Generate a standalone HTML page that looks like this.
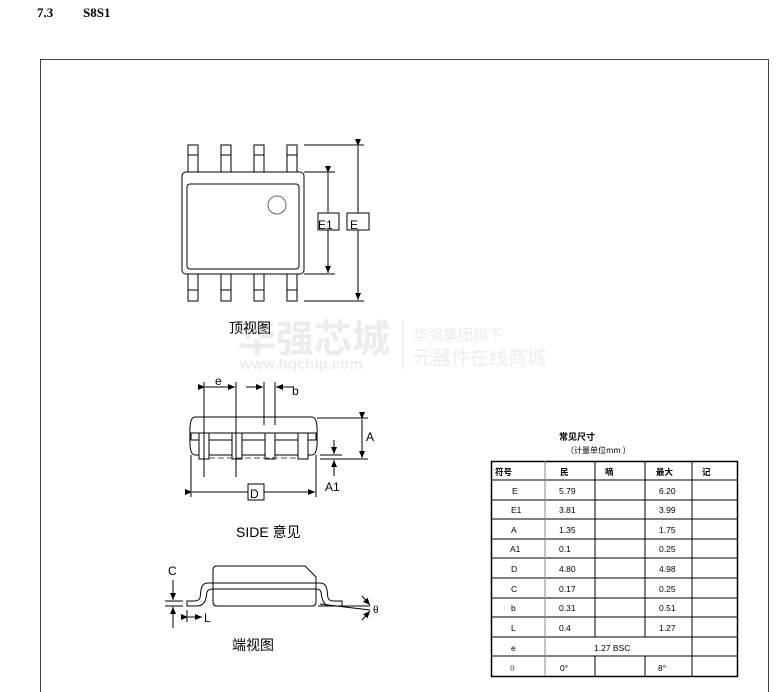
<!DOCTYPE html>
<html><head><meta charset="utf-8"><style>
html,body{margin:0;padding:0;background:#fff;}
svg{display:block;}
text{font-family:"Liberation Sans","Noto Sans CJK SC",sans-serif;}
</style></head><body>
<svg width="784" height="692" viewBox="0 0 784 692" xmlns="http://www.w3.org/2000/svg">
<defs>
<marker id="ar" markerWidth="8" markerHeight="8" refX="7" refY="4" orient="auto" markerUnits="userSpaceOnUse"><path d="M0,1 L7,4 L0,7 z" fill="#000"/></marker>
</defs>
<text x="37" y="17" style="font-family:'Liberation Serif',serif;font-weight:bold;font-size:13px">7.3</text>
<text x="83" y="17" style="font-family:'Liberation Serif',serif;font-weight:bold;font-size:13px">S8S1</text>
<rect x="40.5" y="59.5" width="728" height="640" fill="none" stroke="#444" stroke-width="1"/>

<!-- watermark -->
<g fill="#ececec">
<text x="238" y="352" font-size="38" font-weight="bold" style="font-family:'Noto Sans CJK SC',sans-serif">华强芯城</text>
<text x="240" y="369" font-size="15" font-weight="bold">www.hqchip.com</text>
<text x="413" y="340" font-size="15" style="font-family:'Noto Sans CJK SC',sans-serif">华强集团旗下</text>
<text x="413" y="364" font-size="19" style="font-family:'Noto Sans CJK SC',sans-serif">元器件在线商城</text>
</g>
<line x1="403" y1="320" x2="403" y2="370" stroke="#e6e6e6"/>

<!-- top view -->
<g fill="#fff" stroke="#000" stroke-width="1">
<rect x="188" y="145" width="10" height="27"/><rect x="221" y="145" width="10" height="27"/><rect x="254" y="145" width="10" height="27"/><rect x="287" y="145" width="10" height="27"/>
<rect x="188" y="274" width="10" height="27"/><rect x="221" y="274" width="10" height="27"/><rect x="254" y="274" width="10" height="27"/><rect x="287" y="274" width="10" height="27"/>
<line x1="188" y1="155" x2="198" y2="155"/><line x1="221" y1="155" x2="231" y2="155"/><line x1="254" y1="155" x2="264" y2="155"/><line x1="287" y1="155" x2="297" y2="155"/>
<line x1="188" y1="290" x2="198" y2="290"/><line x1="221" y1="290" x2="231" y2="290"/><line x1="254" y1="290" x2="264" y2="290"/><line x1="287" y1="290" x2="297" y2="290"/>
<rect x="182" y="172" width="122" height="102" rx="4"/>
<rect x="187" y="184" width="112" height="85" rx="3"/>
<circle cx="277" cy="205" r="9" stroke="#666"/>
<line x1="304" y1="172" x2="335" y2="172"/><line x1="304" y1="274" x2="335" y2="274"/>
<line x1="304" y1="145" x2="364" y2="145"/><line x1="304" y1="301" x2="364" y2="301"/>
<line x1="328" y1="173" x2="328" y2="273" marker-start="url(#ar)" marker-end="url(#ar)"/>
<line x1="358" y1="146" x2="358" y2="300" marker-start="url(#ar)" marker-end="url(#ar)"/>
<rect x="318" y="213" width="21" height="17"/>
<rect x="347" y="213" width="22" height="17"/>
</g>
<text x="318" y="229" font-size="12">E1</text>
<text x="350" y="229" font-size="12">E</text>
<text x="229" y="333" font-size="14" style="font-family:'Noto Sans CJK SC',sans-serif">顶视图</text>

<!-- side view -->
<g fill="none" stroke="#000" stroke-width="1">
<path d="M195,417 H312 Q318,417 317,436 Q318,455 312,455 H195 Q189,455 190,436 Q189,417 195,417 Z"/>
<rect x="191" y="433" width="125" height="7" fill="#fff"/>
<g fill="#fff">
<rect x="199" y="433" width="10" height="26"/><rect x="232" y="433" width="10" height="26"/><rect x="265" y="433" width="10" height="26"/><rect x="298" y="433" width="10" height="26"/>
</g>
<line x1="209" y1="458" x2="298" y2="458" stroke-dasharray="6,3" stroke="#555"/>
<line x1="204" y1="382" x2="204" y2="477"/><line x1="236" y1="382" x2="236" y2="477"/>
<line x1="264" y1="382" x2="264" y2="425"/><line x1="275" y1="382" x2="275" y2="425"/>
<line x1="205" y1="387" x2="235" y2="387" marker-start="url(#ar)" marker-end="url(#ar)"/>
<line x1="246" y1="387" x2="263" y2="387" marker-end="url(#ar)"/>
<line x1="294" y1="387" x2="276" y2="387" marker-end="url(#ar)"/>
<line x1="191" y1="455" x2="191" y2="497"/><line x1="316" y1="455" x2="316" y2="497"/>
<line x1="192" y1="492" x2="315" y2="492" marker-start="url(#ar)" marker-end="url(#ar)"/>
<rect x="248" y="484" width="16" height="16" fill="#fff"/>
<line x1="317" y1="418" x2="368" y2="418"/><line x1="320" y1="459" x2="368" y2="459"/>
<line x1="320" y1="455" x2="342" y2="455"/>
<line x1="362" y1="419" x2="362" y2="458" marker-start="url(#ar)" marker-end="url(#ar)"/>
<line x1="334" y1="440" x2="334" y2="454" marker-end="url(#ar)"/>
<line x1="334" y1="476" x2="334" y2="460" marker-end="url(#ar)"/>
</g>
<text x="215" y="385" font-size="12">e</text>
<text x="292" y="395" font-size="12">b</text>
<text x="250" y="498" font-size="12">D</text>
<text x="366" y="441" font-size="12">A</text>
<text x="325" y="491" font-size="12">A1</text>
<text x="236" y="537" font-size="14">SIDE 意见</text>

<!-- end view -->
<g fill="none" stroke="#000" stroke-width="1">
<path d="M217,566 H305 L316,577 V602 Q316,606 312,606 H217 Q213,606 213,602 V570 Q213,566 217,566 Z"/>
<path d="M316,583 H320 Q326,583 327,590 L328,598 Q329,601 334,601 H342 V606 H331 Q324,606 322,598 L321,592 Q320,589 316,589"/>
<path d="M213,583 H208 Q202,583 201,590 L200,598 Q199,601 194,601 H187 V606 H197 Q204,606 206,598 L207,592 Q208,589 213,589"/>
<line x1="213" y1="583" x2="316" y2="583"/><line x1="213" y1="589" x2="316" y2="589"/>
<line x1="318" y1="606" x2="370" y2="606"/><line x1="320" y1="604" x2="370" y2="610"/>
<line x1="165" y1="601" x2="183" y2="601"/><line x1="165" y1="606" x2="183" y2="606"/>
<line x1="173" y1="580" x2="173" y2="600" marker-end="url(#ar)"/>
<line x1="173" y1="628" x2="173" y2="607" marker-end="url(#ar)"/>
<line x1="187" y1="610" x2="187" y2="622"/>
<line x1="188" y1="617" x2="202" y2="617" marker-start="url(#ar)" marker-end="url(#ar)"/>
<line x1="362" y1="596" x2="370" y2="605" marker-end="url(#ar)"/>
<line x1="362" y1="620" x2="370" y2="611" marker-end="url(#ar)"/>
</g>
<text x="168" y="575" font-size="12">C</text>
<text x="204" y="622" font-size="12">L</text>
<text x="373" y="613" font-size="10">θ</text>
<text x="232" y="650" font-size="14" style="font-family:'Noto Sans CJK SC',sans-serif">端视图</text>

<!-- table -->
<text x="559" y="440" font-size="9" font-weight="bold" style="font-family:'Noto Sans CJK SC',sans-serif">常见尺寸</text>
<text x="566" y="453" font-size="8" style="font-family:'Noto Sans CJK SC',sans-serif">（计量单位mm ）</text>
<g fill="none" stroke="#000" stroke-width="1">
<rect x="491.5" y="461.5" width="246" height="215" stroke-width="1.5"/>
<line x1="491" y1="480" x2="738" y2="480"/>
<line x1="491" y1="500" x2="738" y2="500"/><line x1="491" y1="519" x2="738" y2="519"/>
<line x1="491" y1="539" x2="738" y2="539"/><line x1="491" y1="558" x2="738" y2="558"/>
<line x1="491" y1="578" x2="738" y2="578"/><line x1="491" y1="598" x2="738" y2="598"/>
<line x1="491" y1="617" x2="738" y2="617"/><line x1="491" y1="637" x2="738" y2="637"/>
<line x1="491" y1="656" x2="738" y2="656"/>
<line x1="545" y1="461" x2="545" y2="676" stroke="#888"/>
<line x1="595" y1="461" x2="595" y2="637"/><line x1="595" y1="656" x2="595" y2="676"/>
<line x1="645" y1="461" x2="645" y2="637"/><line x1="645" y1="656" x2="645" y2="676"/>
<line x1="692" y1="461" x2="692" y2="676"/>
</g>
<g font-size="8.5">
<text x="495" y="475" font-weight="bold">符号</text><text x="560" y="475" font-weight="bold">民</text><text x="605" y="475" font-weight="bold">嘀</text><text x="656" y="475" font-weight="bold">最大</text><text x="702" y="475" font-weight="bold">记</text>
<text x="512" y="494">E</text><text x="559" y="494">5.79</text><text x="659" y="494">6.20</text>
<text x="511" y="513">E1</text><text x="559" y="513">3.81</text><text x="659" y="513">3.99</text>
<text x="511" y="533">A</text><text x="559" y="533">1.35</text><text x="659" y="533">1.75</text>
<text x="510" y="552">A1</text><text x="559" y="552">0.1</text><text x="659" y="552">0.25</text>
<text x="511" y="572">D</text><text x="559" y="572">4.80</text><text x="659" y="572">4.98</text>
<text x="511" y="592">C</text><text x="559" y="592">0.17</text><text x="659" y="592">0.25</text>
<text x="511" y="611">b</text><text x="559" y="611">0.31</text><text x="659" y="611">0.51</text>
<text x="511" y="631">L</text><text x="559" y="631">0.4</text><text x="659" y="631">1.27</text>
<text x="511" y="651">e</text><text x="594" y="651">1.27 BSC</text>
<text x="510" y="671" fill="#666">θ</text><text x="560" y="671">0°</text><text x="658" y="671">8°</text>
</g>
</svg>
</body></html>
